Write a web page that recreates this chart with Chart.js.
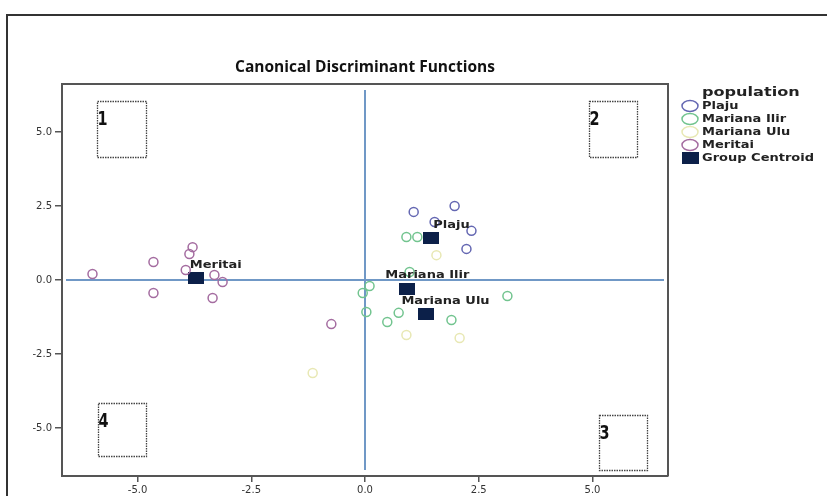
<!DOCTYPE html>
<html>
<head>
<meta charset="utf-8">
<title>Canonical Discriminant Functions</title>
<script src="https://cdn.jsdelivr.net/npm/chart.js@4.4.1/dist/chart.umd.min.js"></script>
<style>
    html, body { margin: 0; padding: 0; background: #fff; }
    #wrap { width: 827px; height: 496px; }
</style>
</head>
<body>
<div id="wrap"><canvas id="chart" width="827" height="496"></canvas></div>
<script>
// Data: function 1 (x) and function 2 (y) scores per case
const groups = ['Plaju', 'Mariana Ilir', 'Mariana Ulu', 'Meritai'];
const plaju = [[1.07, 2.30], [1.97, 2.50], [1.53, 1.96], [2.34, 1.66], [2.23, 1.05]];
const marianaIlir = [[0.91, 1.45], [1.15, 1.45], [0.98, 0.27], [0.10, -0.20], [-0.05, -0.44],
    [0.03, -1.08], [0.74, -1.11], [0.49, -1.42], [1.90, -1.35], [3.13, -0.54]];
const marianaUlu = [[1.57, 0.84], [0.91, -1.86], [2.08, -1.96], [-1.15, -3.14]];
const meritai = [[-5.99, 0.20], [-4.65, 0.61], [-4.65, -0.44], [-3.79, 1.11], [-3.86, 0.88],
    [-3.94, 0.34], [-3.31, 0.17], [-3.13, -0.07], [-3.35, -0.61], [-0.74, -1.49]];
const centroidX = [1.46, 0.93, 1.33, -3.72];
const centroidY = [1.42, -0.30, -1.15, 0.07];
const xTicks = [-5, -2.5, 0, 2.5, 5];
const yTicks = [-5, -2.5, 0, 2.5, 5];
const boxLabels = ['1', '2', '3', '4'];

// Styles
const COLORS = {
    'Plaju': '#6467b2',
    'Mariana Ilir': '#72c48f',
    'Mariana Ulu': '#e8e8b4',
    'Meritai': '#a46ca0',
    centroid: '#0c2049',
    zero: '#7098c6',
    axis: '#555555',
    text: '#222222'
};
const FONT = '"DejaVu Sans", Verdana, sans-serif';

// Dotted boxes, in axis units
const BOXES = [
    { x0: -5.88, x1: -4.82, y0: 4.16, y1: 6.05 },
    { x0: 4.93, x1: 5.97, y0: 4.16, y1: 6.05 },
    { x0: 5.15, x1: 6.19, y0: -6.42, y1: -4.56 },
    { x0: -5.86, x1: -4.82, y0: -5.95, y1: -4.16 }
];

const toPoints = arr => arr.map(p => ({ x: p[0], y: p[1] }));
const groupData = [plaju, marianaIlir, marianaUlu, meritai];

// Centroid marker (wide filled rectangle)
const centroidMark = document.createElement('canvas');
centroidMark.width = 16;
centroidMark.height = 12;
(function () {
    const c = centroidMark.getContext('2d');
    c.fillStyle = COLORS.centroid;
    c.fillRect(0, 0, 16, 12);
})();

const datasets = groups.map((name, i) => ({
    label: name,
    data: toPoints(groupData[i]),
    pointStyle: 'circle',
    pointRadius: 4.5,
    pointBorderWidth: 1.5,
    borderColor: COLORS[name],
    backgroundColor: 'rgba(0,0,0,0)'
}));
datasets.push({
    label: 'Group Centroid',
    data: centroidX.map((x, i) => ({ x: x, y: centroidY[i] })),
    pointStyle: centroidMark,
    pointRadius: 8,
    borderColor: COLORS.centroid,
    backgroundColor: COLORS.centroid
});

// text drawn a little wider than the font, like the original export
function wideText(ctx, text, x, y, sx) {
    ctx.save();
    ctx.translate(x, y);
    ctx.scale(sx, 1);
    ctx.fillText(text, 0, 0);
    ctx.restore();
}

// Extra drawing: frame, zero lines, boxes, labels, title, legend
const decorations = {
    id: 'decorations',
    beforeDraw(chart) {
        const ctx = chart.ctx;
        ctx.save();
        ctx.fillStyle = '#fff';
        ctx.fillRect(0, 0, chart.width, chart.height);
        ctx.strokeStyle = '#333';
        ctx.lineWidth = 2;
        ctx.beginPath();
        ctx.moveTo(7, chart.height);
        ctx.lineTo(7, 15);
        ctx.lineTo(chart.width, 15);
        ctx.stroke();
        ctx.restore();
    },
    beforeDatasetsDraw(chart) {
        const ctx = chart.ctx;
        const a = chart.chartArea;
        const xs = chart.scales.x, ys = chart.scales.y;
        ctx.save();
        // zero reference lines
        ctx.strokeStyle = COLORS.zero;
        ctx.lineWidth = 2;
        ctx.beginPath();
        const x0 = Math.round(xs.getPixelForValue(0));
        const y0 = Math.round(ys.getPixelForValue(0));
        ctx.moveTo(x0, a.top + 6);
        ctx.lineTo(x0, a.bottom - 6);
        ctx.moveTo(a.left + 4, y0);
        ctx.lineTo(a.right - 4, y0);
        ctx.stroke();

        // dotted boxes with numbers
        BOXES.forEach((b, i) => {
            const l = Math.round(xs.getPixelForValue(b.x0)) + 0.5;
            const r = Math.round(xs.getPixelForValue(b.x1)) + 0.5;
            const t = Math.round(ys.getPixelForValue(b.y1)) + 0.5;
            const btm = Math.round(ys.getPixelForValue(b.y0)) + 0.5;
            ctx.strokeStyle = '#444';
            ctx.lineWidth = 1.3;
            ctx.setLineDash([1.5, 1]);
            ctx.strokeRect(l, t, r - l, btm - t);
            ctx.setLineDash([]);
            ctx.fillStyle = '#111';
            ctx.font = 'bold 20px "Liberation Sans Narrow", "DejaVu Sans Condensed", sans-serif';
            ctx.textAlign = 'left';
            ctx.textBaseline = 'middle';
            ctx.save();
            ctx.translate(l, t + 18);
            ctx.scale(0.8, 1);
            ctx.fillText(boxLabels[i], 0, 0);
            ctx.restore();
        });
        ctx.restore();
    },
    afterDatasetsDraw(chart) {
        const ctx = chart.ctx;
        const a = chart.chartArea;
        const xs = chart.scales.x, ys = chart.scales.y;
        ctx.save();

        // centroid labels
        ctx.fillStyle = COLORS.text;
        ctx.font = 'bold 10px ' + FONT;
        ctx.textAlign = 'center';
        ctx.textBaseline = 'middle';
        groups.forEach((name, i) => {
            const px = xs.getPixelForValue(centroidX[i]);
            const py = ys.getPixelForValue(centroidY[i]);
            wideText(ctx, name, px + 20, py - 13, 1.3);
        });

        // top and right sides of the plot box
        ctx.strokeStyle = COLORS.axis;
        ctx.lineWidth = 2;
        ctx.beginPath();
        ctx.moveTo(a.left, a.top);
        ctx.lineTo(a.right, a.top);
        ctx.lineTo(a.right, a.bottom);
        ctx.stroke();

        // title
        ctx.fillStyle = '#111';
        ctx.font = 'bold 15.5px "Open Sans", sans-serif';
        ctx.textAlign = 'center';
        ctx.fillText('Canonical Discriminant Functions', (a.left + a.right) / 2, 68);

        // legend
        const lx = 702;
        let ly = 93;
        ctx.textAlign = 'left';
        ctx.font = 'bold 11.5px ' + FONT;
        ctx.fillStyle = COLORS.text;
        wideText(ctx, 'population', lx, ly, 1.4);
        ctx.font = 'bold 10px ' + FONT;
        chart.data.datasets.forEach(ds => {
            ly += 13;
            if (ds.label === 'Group Centroid') {
                ctx.fillStyle = COLORS.centroid;
                ctx.fillRect(682, ly - 6, 17, 12);
            } else {
                ctx.strokeStyle = ds.borderColor;
                ctx.lineWidth = 1.5;
                ctx.beginPath();
                ctx.ellipse(690, ly, 8, 5.5, 0, 0, Math.PI * 2);
                ctx.stroke();
            }
            ctx.fillStyle = COLORS.text;
            wideText(ctx, ds.label, lx, ly, 1.3);
        });
        ctx.restore();
    }
};

const tickFont = { family: FONT, size: 10 };

new Chart(document.getElementById('chart'), {
    type: 'scatter',
    data: { datasets: datasets },
    options: {
        responsive: false,
        devicePixelRatio: 1,
        animation: false,
        layout: { padding: { left: 0, top: 84, right: 159, bottom: 0 } },
        plugins: {
            legend: { display: false },
            title: { display: false },
            tooltip: { enabled: false }
        },
        scales: {
            x: {
                type: 'linear',
                min: -6.66,
                max: 6.66,
                afterBuildTicks: s => { s.ticks = xTicks.map(v => ({ value: v })); },
                afterFit: s => { s.height = 20; },
                ticks: {
                    color: '#333',
                    font: tickFont,
                    padding: 2,
                    maxRotation: 0,
                    callback: v => v.toFixed(1)
                },
                grid: { display: true, drawOnChartArea: false, drawTicks: true, tickLength: 6, color: COLORS.axis, lineWidth: 1.5 },
                border: { display: true, color: COLORS.axis, width: 2 }
            },
            y: {
                type: 'linear',
                min: -6.62,
                max: 6.62,
                afterBuildTicks: s => { s.ticks = yTicks.map(v => ({ value: v })); },
                afterFit: s => { s.width = 62; },
                ticks: {
                    color: '#333',
                    font: tickFont,
                    padding: 3,
                    callback: v => v.toFixed(1)
                },
                grid: { display: true, drawOnChartArea: false, drawTicks: true, tickLength: 7, color: COLORS.axis, lineWidth: 1.5 },
                border: { display: true, color: COLORS.axis, width: 2 }
            }
        }
    },
    plugins: [decorations]
});
</script>
</body>
</html>
